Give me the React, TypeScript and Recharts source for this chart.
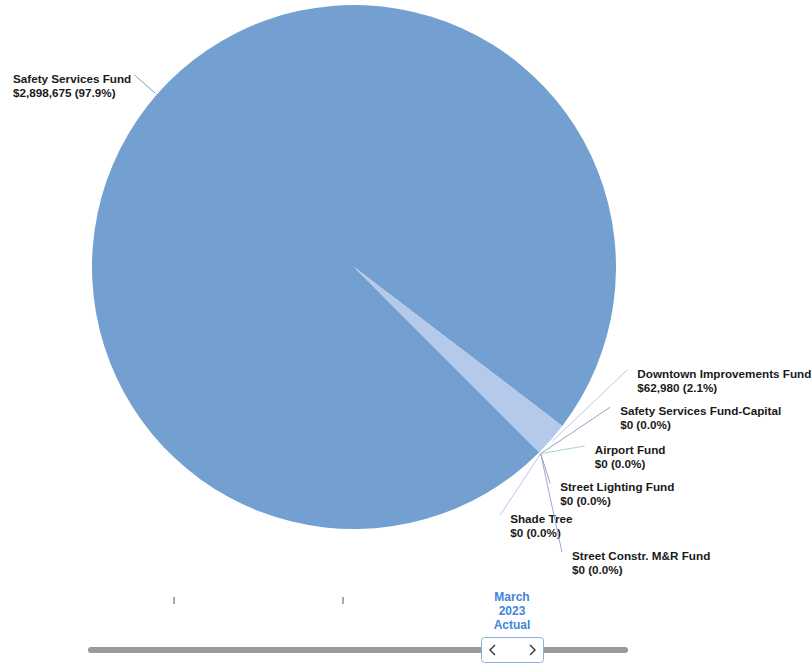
import { PieChart, Pie, Cell } from 'recharts';

const funds = [
  'Safety Services Fund',
  'Downtown Improvements Fund',
  'Safety Services Fund-Capital',
  'Airport Fund',
  'Street Lighting Fund',
  'Shade Tree',
  'Street Constr. M&R Fund',
];
const amounts = [2898675, 62980, 0, 0, 0, 0, 0];
const colors = ['#73a0d0', '#b5c9eb', '#98a1c2', '#a9d9c2', '#9a9fbd', '#b3c8e6', '#a3a7cf'];

const periodLabel = ['March', '2023', 'Actual'];

const pieData = funds.map((name, i) => ({ name, value: amounts[i] }));

// where each label sits: angle of the connector end (null = slice middle) and distance past the rim
const labelAngles = [null, -20.6, -28.7, -37.8, -47.8, -59.5, -53.9];
const labelGaps = [30, 30, 30, 30, 30, 26, 91];

const FONT = '"Liberation Sans", Arial, sans-serif';
const LABEL_SIZE = 11.7;
const RAD = Math.PI / 180;

const measure = (text: string) => {
  const ctx = document.createElement('canvas').getContext('2d');
  if (!ctx) return text.length * 6.5;
  ctx.font = `bold ${LABEL_SIZE}px ${FONT}`;
  return ctx.measureText(text).width;
};

const renderLabel = (props: any) => {
  const { cx, cy, midAngle, outerRadius, index, name, value, percent } = props;
  const color = colors[index];
  const sx = cx + (outerRadius + 2) * Math.cos(-midAngle * RAD);
  const sy = cy + (outerRadius + 2) * Math.sin(-midAngle * RAD);
  const ang = labelAngles[index] ?? midAngle;
  const r = outerRadius + labelGaps[index];
  const ex = cx + r * Math.cos(-ang * RAD);
  const ey = cy + r * Math.sin(-ang * RAD);
  const left = ex < cx;
  const line1 = name;
  const line2 = `$${value.toLocaleString('en-US')} (${(percent * 100).toFixed(1)}%)`;
  const tx = left ? ex - 3 - Math.max(measure(line1), measure(line2)) : ex + 10;
  const ty = ey + 8;
  return (
    <g key={`lbl-${index}`}>
      <line x1={sx} y1={sy} x2={ex} y2={ey} stroke={color} strokeWidth={1} />
      <text x={tx} y={ty} fontFamily={FONT} fontSize={LABEL_SIZE} fontWeight="bold" fill="#1a1a1a">
        <tspan x={tx} y={ty}>{line1}</tspan>
        <tspan x={tx} y={ty + 14}>{line2}</tspan>
      </text>
    </g>
  );
};

const Timeline = () => (
  <svg width={812} height={663} style={{ position: 'absolute', left: 0, top: 0, pointerEvents: 'none' }}>
    <line x1={174} y1={597} x2={174} y2={604} stroke="#555" strokeWidth={1} />
    <line x1={343} y1={597} x2={343} y2={604} stroke="#555" strokeWidth={1} />
    <text x={512} y={601} textAnchor="middle" fontFamily={FONT} fontSize={12} fontWeight="bold" fill="#3f86d9">
      {periodLabel.map((t, i) => (
        <tspan key={t} x={512} y={601 + i * 14}>{t}</tspan>
      ))}
    </text>
    <line x1={91} y1={650} x2={625} y2={650} stroke="#9a9a9a" strokeWidth={6} strokeLinecap="round" />
    <rect x={481.5} y={637.5} width={62} height={25} rx={3} fill="#fff" stroke="#8fb0dc" strokeWidth={1} />
    <polyline points="495,645 490,650 495,655" fill="none" stroke="#333" strokeWidth={1.4} />
    <polyline points="530,645 535,650 530,655" fill="none" stroke="#333" strokeWidth={1.4} />
  </svg>
);

export default function App() {
  return (
    <div style={{ position: 'absolute', left: 0, top: 0, width: 812, height: 663, background: '#fff', overflow: 'hidden' }}>
      <PieChart width={812} height={663} margin={{ top: 0, right: 0, bottom: 0, left: 0 }}>
        <Pie
          data={pieData}
          dataKey="value"
          nameKey="name"
          cx={354}
          cy={267}
          outerRadius={262}
          startAngle={-45}
          endAngle={-405}
          stroke="none"
          labelLine={false}
          label={renderLabel}
          isAnimationActive={false}
        >
          {pieData.map((d, i) => (
            <Cell key={d.name} fill={colors[i]} />
          ))}
        </Pie>
      </PieChart>
      <Timeline />
    </div>
  );
}
